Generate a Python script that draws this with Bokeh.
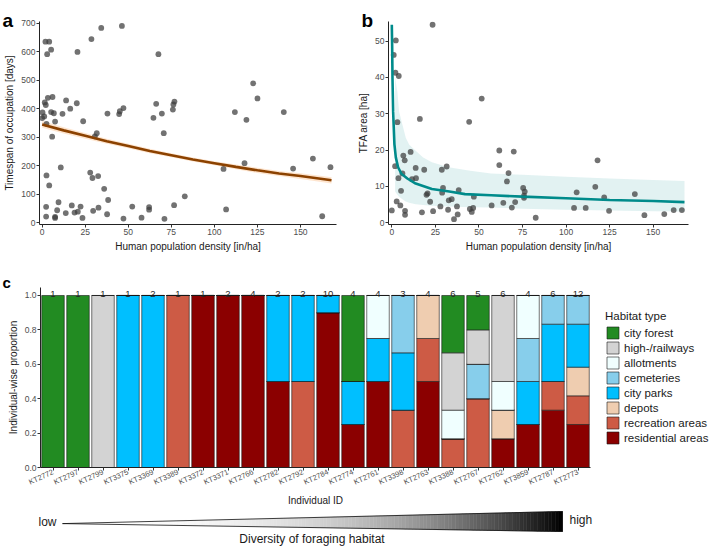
import math
from bokeh.plotting import figure
from bokeh.models import (ColumnDataSource, Range1d, FixedTicker, Legend, LegendItem, Label,
                          NumeralTickFormatter)
from bokeh.layouts import column, row
from bokeh.embed import file_html
from bokeh.resources import INLINE
from bokeh.core.properties import value

FONT = "Liberation Sans"

# ---------------- Panel a data ----------------
a_density = [0.2, 0.0, 1.2, 1.5, 2.1, 1.9, 4.1, 2.9, 5.2, 3.3, 6.0, 2.5, 5.2, 6.8, 7.5, 5.8, 2.5, 4.1,
             2.3, 2.3, 7.5, 7.5, 8.7, 9.5, 10.8, 11.8, 13.9, 13.7, 16.3, 17.2, 18.8, 20.1, 20.5, 20.7,
             22.3, 23.4, 23.8, 27.9, 28.6, 29.2, 29.6, 30.6, 31.7, 32.5, 32.7, 34.3, 36.0, 37.7, 37.9,
             38.3, 44.7, 45.1, 46.3, 47.2, 47.2, 52.3, 57.7, 62.1, 62.1, 64.6, 66.2, 67.5, 69.5, 70.6,
             71.0, 75.9, 76.2, 76.8, 76.6, 82.8, 105.3, 106.8, 111.9, 117.5, 118.6, 122.5, 125.0,
             140.3, 145.7, 157.2, 162.6, 167.4]
a_days = [387, 367, 373, 422, 413, 635, 635, 591, 607, 438, 441, 347, 388, 384, 355, 302, 166, 131,
          56, 22, 21, 17, 44, 72, 194, 382, 429, 34, 400, 61, 36, 419, 599, 39, 57, 17, 356, 176, 644,
          157, 42, 303, 314, 164, 53, 683, 119, 30, 383, 80, 381, 391, 690, 402, 15, 57, 18, 55, 46,
          368, 417, 591, 383, 314, 14, 397, 415, 425, 62, 93, 189, 47, 388, 209, 361, 489, 436, 388,
          190, 225, 23, 195]
a_fit_x = [0, 12.5, 25, 37.5, 50, 62.5, 75, 87.5, 100, 112.5, 125, 137.5, 150, 168]
a_fit_y = [345, 324, 305, 286, 269, 252, 237, 222, 209, 196, 184, 173, 164, 149]
a_band_hi = [357, 335, 315, 295, 277, 260, 244, 229, 216, 204, 193, 182, 174, 160]
a_band_lo = [333, 313, 295, 277, 261, 244, 230, 215, 202, 188, 175, 164, 154, 138]

# ---------------- Panel b data ----------------
b_density = [0.0, 1.1, 2.3, 2.1, 4.0, 3.2, 1.9, 2.8, 3.8, 4.9, 5.3, 6.1, 6.6, 7.4, 7.6, 7.6, 10.8,
             11.6, 13.7, 13.9, 16.1, 17.3, 18.6, 19.9, 20.5, 22.0, 23.4, 23.7, 27.9, 28.7, 28.9, 29.4,
             31.5, 32.3, 32.7, 34.4, 35.7, 37.4, 37.8, 38.4, 44.4, 44.8, 45.9, 46.7, 47.1, 51.6, 57.3,
             61.7, 61.7, 64.0, 66.1, 67.0, 68.9, 70.0, 70.8, 75.4, 75.9, 75.9, 76.3, 82.6, 104.6,
             106.1, 111.3, 116.8, 118.1, 121.9, 124.7, 139.5, 145.0, 156.4, 161.8, 166.5]
b_area = [3.4, 46.2, 50.2, 41.3, 40.4, 27.7, 15.6, 5.9, 12.3, 4.8, 8.8, 13.6, 18.5, 17.2, 3.3, 2.2,
          19.5, 12.0, 15.1, 12.3, 28.6, 2.9, 14.6, 7.7, 8.1, 5.8, 54.5, 3.2, 4.5, 14.6, 8.3, 9.6, 15.5,
          3.6, 6.2, 6.5, 1.0, 4.5, 2.3, 9.0, 27.8, 3.8, 3.0, 4.1, 7.2, 34.2, 4.8, 19.9, 15.9, 5.5,
          11.4, 13.7, 4.2, 19.6, 5.7, 9.6, 6.9, 7.5, 8.6, 1.4, 4.1, 8.4, 4.1, 9.9, 17.2, 7.0, 3.3,
          7.9, 2.1, 2.4, 3.5, 3.5]
b_fit_x = [0, 0.2, 0.4, 0.76, 1.5, 2.3, 3.6, 5.5, 8.9, 13.7, 23, 33, 42, 57, 75, 100, 125, 150, 168]
b_fit_y = [54.5, 48.6, 39.6, 30.6, 21.6, 18.0, 15.3, 13.5, 12.2, 10.8, 9.3, 8.6, 7.9, 7.6, 7.2, 6.75,
           6.3, 6.0, 5.7]
b_band_x = [1.9, 3.2, 4.2, 6.1, 8.0, 10.0, 13.7, 18.0, 23.0, 32.6, 45.0, 57.0, 75.0, 100.0, 125.0,
            150.0, 168.0]
b_band_hi = [40.0, 36.0, 30.6, 27.0, 23.4, 21.5, 19.8, 18.0, 16.7, 15.3, 14.3, 13.6, 13.2, 12.7,
             12.2, 11.8, 11.5]
b_band_lo = [8.6, 7.7, 7.2, 6.5, 5.9, 5.5, 5.1, 4.9, 4.7, 4.5, 4.3, 4.2, 3.9, 3.6, 3.4, 3.2, 3.1]

# ---------------- Panel c data ----------------
ids = ["KT2772", "KT2797", "KT2799", "KT3375", "KT3369", "KT3389", "KT3372", "KT3371", "KT2766",
       "KT2782", "KT2792", "KT2784", "KT2774", "KT2761", "KT3398", "KT2763", "KT3388", "KT2767",
       "KT2762", "KT3859", "KT2787", "KT2773"]
habitats = ["city forest", "high-/railways", "allotments", "cemeteries", "city parks", "depots",
            "recreation areas", "residential areas"]
habitat_colors = ["#228B22", "#D3D3D3", "#F0FFFF", "#87CEEB", "#00BFFF", "#EFCDB0", "#CD5B45",
                  "#8B0000"]
# number of foraging sites per habitat and individual
city_forest = [1, 1, 0, 0, 0, 0, 0, 0, 0, 0, 0, 0, 2, 0, 0, 0, 2, 1, 0, 0, 0, 0]
railways    = [0, 0, 1, 0, 0, 0, 0, 0, 0, 0, 0, 0, 0, 0, 0, 0, 2, 1, 3, 0, 0, 0]
allotments  = [0, 0, 0, 0, 0, 0, 0, 0, 0, 0, 0, 0, 0, 1, 0, 0, 1, 0, 1, 1, 0, 0]
cemeteries  = [0, 0, 0, 0, 0, 0, 0, 0, 0, 0, 0, 0, 0, 0, 1, 0, 0, 1, 0, 1, 1, 2]
city_parks  = [0, 0, 0, 1, 2, 0, 0, 0, 0, 1, 1, 1, 1, 1, 1, 0, 0, 0, 0, 1, 2, 3]
depots      = [0, 0, 0, 0, 0, 0, 0, 0, 0, 0, 0, 0, 0, 0, 0, 1, 0, 0, 1, 0, 0, 2]
recreation  = [0, 0, 0, 0, 0, 1, 0, 0, 0, 0, 1, 0, 0, 0, 1, 1, 1, 2, 0, 0, 1, 2]
residential = [0, 0, 0, 0, 0, 0, 1, 2, 4, 1, 0, 9, 1, 2, 0, 2, 0, 0, 1, 1, 2, 3]
habitat_counts = [city_forest, railways, allotments, cemeteries, city_parks, depots, recreation,
                  residential]


def style(p):
    p.xgrid.visible = False
    p.ygrid.visible = False
    p.outline_line_color = None
    for ax in p.axis:
        ax.axis_line_color = "#222222"
        ax.axis_line_width = 1
        ax.major_tick_line_color = "#333333"
        ax.major_tick_out = 3
        ax.major_tick_in = 0
        ax.minor_tick_line_color = None
        ax.major_label_text_font = FONT
        ax.major_label_text_font_size = "8.5px"
        ax.major_label_text_color = "#4d4d4d"
        ax.major_label_standoff = 1
        ax.axis_label_text_font = FONT
        ax.axis_label_text_font_size = "10px"
        ax.axis_label_text_font_style = "normal"
        ax.axis_label_text_color = "#1a1a1a"
        ax.axis_label_standoff = 3


def strip(width, height, top):
    """A blank figure whose data coordinates equal page pixels (y downwards)."""
    s = figure(width=width, height=height, x_range=Range1d(0, width),
               y_range=Range1d(top + height, top), output_backend="svg", toolbar_location=None,
               min_border=0, x_axis_location=None, y_axis_location=None, title=None)
    s.xgrid.visible = False
    s.ygrid.visible = False
    s.outline_line_color = None
    return s


def panel_letter(p, text, dx, dy, size):
    # drawn in the border above the plot frame (offsets from the frame's top-left corner)
    p.add_layout(Label(x=dx, y=dy, x_units="screen", y_units="screen", text=text,
                       text_font=FONT, text_font_size=size, text_font_style="bold",
                       text_color="black", text_baseline="alphabetic"), "above")


# ---------------- Panel a ----------------
pa = figure(width=355, height=254, x_range=Range1d(-1.55, 170.9), y_range=Range1d(-5.9, 705.6),
            output_backend="svg", toolbar_location=None, min_border_left=39, min_border_right=19,
            min_border_top=18, min_border_bottom=29, title=None)
pa.varea(x=a_fit_x, y1=a_band_lo, y2=a_band_hi, fill_color="#FDD0A8", fill_alpha=0.55)
pa.scatter(a_density, a_days, size=5.8, fill_color="#3c3c3c", fill_alpha=0.72, line_color=None)
pa.line(a_fit_x, a_fit_y, line_color="#8C4200", line_width=2.6)
pa.xaxis.ticker = FixedTicker(ticks=[0, 25, 50, 75, 100, 125, 150])
pa.yaxis.ticker = FixedTicker(ticks=[0, 100, 200, 300, 400, 500, 600, 700])
pa.xaxis.axis_label = "Human population density [in/ha]"
pa.yaxis.axis_label = "Timespan of occupation [days]"
style(pa)
panel_letter(pa, "a", -37, 1.3, "19px")

# ---------------- Panel b ----------------
pb = figure(width=354, height=254, x_range=Range1d(-1.9, 170.3), y_range=Range1d(-0.46, 55.4),
            output_backend="svg", toolbar_location=None, min_border_left=31, min_border_right=21,
            min_border_top=18, min_border_bottom=29, title=None)
pb.varea(x=b_band_x, y1=b_band_lo, y2=b_band_hi, fill_color="#CFE9E9", fill_alpha=0.6)
pb.scatter(b_density, b_area, size=5.8, fill_color="#3c3c3c", fill_alpha=0.72, line_color=None)
pb.line(b_fit_x, b_fit_y, line_color="#008B8B", line_width=2.6)
pb.xaxis.ticker = FixedTicker(ticks=[0, 25, 50, 75, 100, 125, 150])
pb.yaxis.ticker = FixedTicker(ticks=[0, 10, 20, 30, 40, 50])
pb.xaxis.axis_label = "Human population density [in/ha]"
pb.yaxis.axis_label = "TFA area [ha]"
style(pb)
panel_letter(pb, "b", -27, 1.3, "19px")

# ---------------- Panel c ----------------
n_sites = [sum(col) for col in zip(*habitat_counts)]
data = {"x": list(range(len(ids))), "n": [str(v) for v in n_sites]}
keys = []
for k, counts in enumerate(habitat_counts):
    key = "h%d" % k
    keys.append(key)
    data[key] = [c / n for c, n in zip(counts, n_sites)]
src = ColumnDataSource(data)

pc = figure(width=709, height=240, x_range=Range1d(-0.5, 26.26), y_range=Range1d(0, 1.0465),
            output_backend="svg", toolbar_location=None, min_border_left=40, min_border_right=0,
            min_border_top=33, min_border_bottom=27, title=None)
stack_keys = keys[::-1]            # residential at the bottom
stack_colors = habitat_colors[::-1]
renderers = pc.vbar_stack(stack_keys, x="x", width=0.9, source=src, fill_color=stack_colors,
                          line_color="#1a1a1a", line_width=0.6)
pc.text(x="x", y=1.0, text="n", source=src, text_font=value(FONT), text_font_size="9.5px",
        text_color="#262626", text_align="center", text_baseline="alphabetic", y_offset=-1)
pc.xaxis.ticker = FixedTicker(ticks=list(range(len(ids))))
pc.xaxis.major_label_overrides = {i: s for i, s in enumerate(ids)}
pc.yaxis.ticker = FixedTicker(ticks=[0, 0.2, 0.4, 0.6, 0.8, 1.0])
pc.yaxis.formatter = NumeralTickFormatter(format="0.0")
pc.yaxis.axis_label = "Individual-wise proportion"
style(pc)
pc.xaxis.major_label_orientation = math.radians(25)
pc.xaxis.major_label_text_font_size = "7.5px"
pc.xaxis.bounds = (-0.5, 21.5)
pc.yaxis.bounds = (0, 1.0465)
panel_letter(pc, "c", -38, 5, "15px")

rend_by_key = dict(zip(stack_keys, renderers))
items = [LegendItem(label=h, renderers=[rend_by_key[k]]) for h, k in zip(habitats, keys)]
legend = Legend(items=items, title="Habitat type", location=(565, 22), orientation="vertical",
                title_text_font=FONT, title_text_font_size="11.5px", title_text_font_style="normal",
                title_text_color="#1a1a1a", title_standoff=3,
                label_text_font=FONT, label_text_font_size="11.5px", label_text_color="#1a1a1a",
                label_standoff=4, glyph_width=15, glyph_height=15, label_height=15, spacing=0,
                padding=0, margin=0, border_line_color=None, background_fill_alpha=0)
pc.add_layout(legend)

# ---------------- Axis title and diversity wedge ----------------
pt = strip(709, 52, 494)
pt.text(x=[315], y=[499.5], text=["Individual ID"], text_font=value(FONT), text_font_size="10px",
        text_color="#1a1a1a", text_baseline="middle", text_align="center")
x0, x1 = 62.0, 562.0
tip_top, tip_bot, end_top, end_bot = 522.7, 523.5, 511.0, 531.0
nstrip = 140
xs, ys, cols = [], [], []
for i in range(nstrip):
    a0 = x0 + (x1 - x0) * i / nstrip
    a1 = x0 + (x1 - x0) * (i + 1) / nstrip
    f0 = (a0 - x0) / (x1 - x0)
    f1 = (a1 - x0) / (x1 - x0)
    xs.append([a0, a1, a1, a0])
    ys.append([tip_top + (end_top - tip_top) * f0, tip_top + (end_top - tip_top) * f1,
               tip_bot + (end_bot - tip_bot) * f1, tip_bot + (end_bot - tip_bot) * f0])
    t = (f0 + f1) / 2
    g = int(round(255 * (1 - t ** 2.6)))
    cols.append("#%02x%02x%02x" % (g, g, g))
pt.patches(xs, ys, fill_color=cols, line_color=cols, line_width=0.5)
pt.patch([x0, x1, x1], [(tip_top + tip_bot) / 2, end_top, end_bot], fill_color=None,
         line_color="#111111", line_width=0.8)
pt.text(x=[38, 569], y=[521, 519], text=["low", "high"], text_font=value(FONT),
        text_font_size="12px", text_color="#1a1a1a", text_baseline="middle", text_align="left")
pt.text(x=[311.5], y=[538.5], text=["Diversity of foraging habitat"], text_font=value(FONT),
        text_font_size="12px", text_color="#1a1a1a", text_baseline="middle", text_align="center")

layout = column(row(pa, pb), row(pc), row(pt))
open("out.html", "w").write(file_html(layout, INLINE))
